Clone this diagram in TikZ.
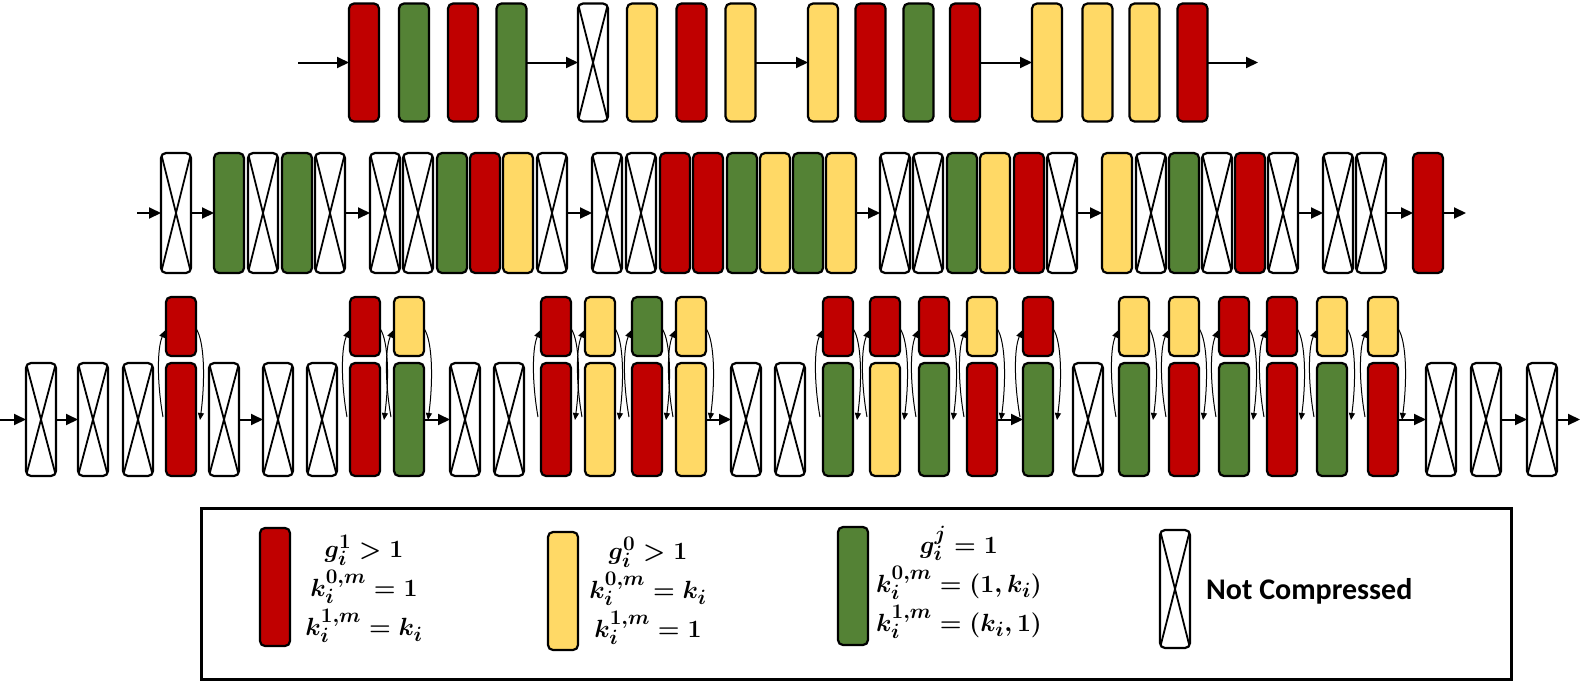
\documentclass[tikz,border=0pt]{standalone}
\usepackage{fontspec}
\newfontfamily\carlito{Carlito}
\usetikzlibrary{arrows.meta,calc}
\definecolor{cred}{HTML}{C00000}
\definecolor{cgreen}{HTML}{548235}
\definecolor{cyellow}{HTML}{FFD966}
\tikzset{
 blk/.style={draw=black, line width=2.2pt, rounded corners=5pt, minimum width=30pt, inner sep=0pt, outer sep=0pt},
 R/.style={blk, fill=cred},
 G/.style={blk, fill=cgreen},
 Y/.style={blk, fill=cyellow},
 X/.style={blk, fill=white, path picture={\draw[line width=1.8pt] (path picture bounding box.north west) -- (path picture bounding box.south east) (path picture bounding box.north east) -- (path picture bounding box.south west);}},
 flow/.style={-{Triangle[length=12pt,width=11pt]}, line width=2pt},
 loopa/.style={-{Triangle[length=7pt,width=6pt]}, line width=1pt},
 leg/.style={minimum width=30pt, line width=2.2pt, rounded corners=5pt},
 lt/.style={inner sep=0pt, align=center, font=\fontsize{28}{39}\selectfont\boldmath},
}
\begin{document}
\lineskiplimit=-20pt\relax
\begin{tikzpicture}[x=1pt,y=-1pt]
\useasboundingbox (0,0) rectangle (1596,681);
% ---------- row 1 ----------
\foreach \c/\x [count=\i] in {R/364,G/414,R/463,G/511.5,X/593,Y/642,R/691.5,Y/740.5,Y/823,R/870.5,G/918.5,R/965,Y/1047,Y/1097.5,Y/1144.5,R/1192.5}
  \node[\c, minimum height=118pt] (a\i) at (\x,62.5) {};
\coordinate (as) at (298,62.5);
\coordinate (ae) at (1258,62.5);
\draw[flow] (as) -- (a1);
\draw[flow] (a4) -- (a5);
\draw[flow] (a8) -- (a9);
\draw[flow] (a12) -- (a13);
\draw[flow] (a16) -- (ae);
% ---------- row 2 ----------
\foreach \c/\x [count=\i] in {X/161,G/214,X/248,G/282,X/315,X/370,X/403,G/437,R/470,Y/503,X/537,X/592,X/626,R/660,R/693,G/727,Y/760,G/793,Y/826,X/880,X/913,G/947,Y/980,R/1014,X/1047,Y/1102,X/1136,G/1169,X/1202,R/1235,X/1268,X/1323,X/1356,R/1413}
  \node[\c, minimum height=120pt, anchor=west] (b\i) at (\x,213) {};
\coordinate (bs) at (137,213);
\coordinate (be) at (1466,213);
\draw[flow] (bs) -- (b1);
\draw[flow] (b1) -- (b2);
\draw[flow] (b5) -- (b6);
\draw[flow] (b11) -- (b12);
\draw[flow] (b19) -- (b20);
\draw[flow] (b25) -- (b26);
\draw[flow] (b31) -- (b32);
\draw[flow] (b33) -- (b34);
\draw[flow] (b34) -- (be);
% ---------- row 3 ----------
\foreach \i/\x in {1/26,2/78,3/123,5/209,6/263,7/307,10/450,11/494,16/731,17/775,23/1073,30/1426,31/1471,32/1527}
  \node[X, minimum height=113pt, anchor=west] (c\i) at (\x,419.5) {};
\foreach \i/\x/\t/\b in {4/166/R/R,8/350/R/R,9/394/Y/G,12/541/R/R,13/585/Y/Y,14/632/G/R,15/676/Y/Y,18/823/R/G,19/870/R/Y,20/919/R/G,21/967/Y/R,22/1023/R/G,24/1119/Y/G,25/1169/Y/R,26/1219/R/G,27/1267/R/R,28/1317/Y/G,29/1368/Y/R}{
  \node[\b, minimum height=113pt, anchor=west] (c\i) at (\x,419.5) {};
  \node[\t, minimum height=59pt, anchor=west] (c\i t) at (\x,326.5) {};
  \draw[loopa] ($(c\i.north west)+(-3,54)$) .. controls ($(c\i.north west)+(-9,20)$) and ($(c\i t.west)+(-9,22)$) .. ($(c\i t.west)+(-1,4)$);
  \draw[loopa] ($(c\i t.east)+(0,2)$) .. controls ($(c\i t.east)+(9,15)$) and ($(c\i.north east)+(9,20)$) .. ($(c\i.north east)+(4,57)$);
}
\coordinate (cs) at (0,419.5);
\coordinate (ce) at (1580,419.5);
\draw[flow] (cs) -- (c1);
\draw[flow] (c1) -- (c2);
\draw[flow] (c5) -- (c6);
\draw[flow] (c9) -- (c10);
\draw[flow] (c15) -- (c16);
\draw[flow] (c21) -- (c22);
\draw[flow] (c29) -- (c30);
\draw[flow] (c31) -- (c32);
\draw[flow] (c32) -- (ce);
% ---------- legend ----------
\node[draw, line width=2.5pt, minimum width=1310pt, minimum height=171pt, inner sep=0pt, anchor=north west] (legbox) at (200,507) {};
\node[R, leg, minimum height=118pt, anchor=north west] (lr) at (260,528) {};
\node[Y, leg, minimum height=118pt, anchor=north west] (ly) at (548,532) {};
\node[G, leg, minimum height=118pt, anchor=north west] (lg) at (838,527) {};
\node[X, leg, minimum height=118pt, anchor=north west] (lx) at (1160,530) {};
\node[lt] (lrt) at (364,589) {$g_i^1 > 1$\\$k_i^{0,m} = 1$\\$k_i^{1,m} = k_i$};
\node[lt] (lyt) at (648,591) {$g_i^0 > 1$\\$k_i^{0,m} = k_i$\\$k_i^{1,m} = 1$};
\node[lt] (lgt) at (959,582) {$g_i^j = 1$\\$k_i^{0,m} = (1, k_i)$\\$k_i^{1,m} = (k_i, 1)$};
\node[inner sep=0pt, anchor=west, font=\carlito\bfseries\fontsize{30}{36}\selectfont] (lxt) at (1206,591) {Not Compressed};
\end{tikzpicture}
\end{document}
